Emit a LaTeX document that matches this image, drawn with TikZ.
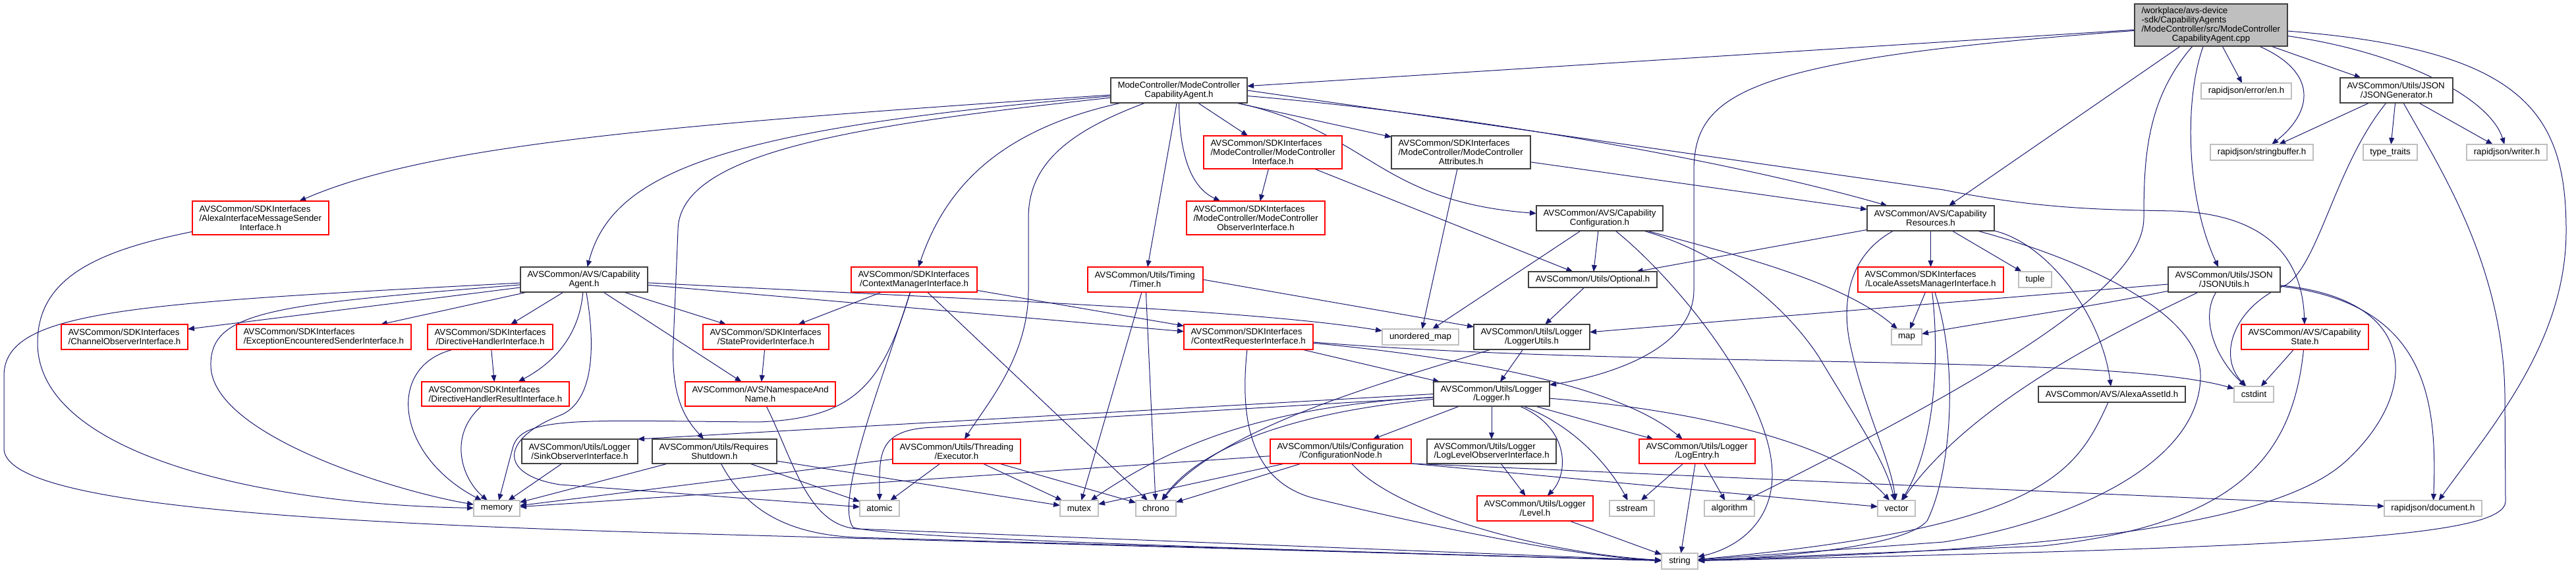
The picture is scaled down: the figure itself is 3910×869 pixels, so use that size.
\documentclass[tikz,border=0pt]{standalone}
\usepackage{fontspec}
\setmainfont{Liberation Sans}
\usetikzlibrary{arrows.meta}
\definecolor{edgec}{HTML}{191970}
\definecolor{redc}{HTML}{FF0000}
\definecolor{grayc}{HTML}{BFBFBF}
\definecolor{darkc}{HTML}{404040}
\definecolor{rootfill}{HTML}{BFBFBF}
\newcommand{\labfont}{\fontsize{13.3pt}{13.8pt}\selectfont}
\newcommand{\Ll}[1]{\leavevmode\hbox to\hsize{#1\hfil}}
\pgfdeclarelayer{bg}
\pgfsetlayers{bg,main}
\tikzset{
  nbase/.style={line width=1.25pt, inner sep=0pt, outer sep=0pt, fill=white, align=center, font=\labfont, text=black},
  bk/.style={nbase, draw=darkc},
  rd/.style={nbase, draw=redc},
  gy/.style={nbase, draw=grayc},
  rt/.style={nbase, draw=darkc, fill=rootfill},
  edg/.style={draw=edgec, line width=1pt, -{Triangle[length=10pt,width=8pt]}},
}
\newcommand{\mk}[7]{\node[#1,minimum width=#4pt,minimum height=#5pt,text width=#6pt] (#2) at (#3) {#7};}
\newcommand{\mb}[6]{\node[#1,minimum width=#4pt,minimum height=#5pt] (#2) at (#3) {#6};}
\begin{document}
\begin{tikzpicture}[x=1pt,y=-1pt]
\useasboundingbox (0,0) rectangle (3910,869);
\begin{pgfonlayer}{bg}
\fill[white] (0,0) rectangle (3910,869);
\end{pgfonlayer}
% ---------- nodes ----------
\mk{rt}{root}{3356,38}{232}{64}{211}{\Ll{/workplace/avs-device}\\\Ll{-sdk/CapabilityAgents}\\\Ll{/ModeController/src/ModeController}\\CapabilityAgent.cpp}
\mk{bk}{mcca}{1789.5,137}{207}{38}{186}{\Ll{ModeController/ModeController}\\CapabilityAgent.h}
\mk{rd}{amsi}{395.5,330.5}{207}{51}{186}{\Ll{AVSCommon/SDKInterfaces}\\\Ll{/AlexaInterfaceMessageSender}\\Interface.h}
\mk{bk}{cagent}{886.5,424}{193}{38}{172}{\Ll{AVSCommon/AVS/Capability}\\Agent.h}
\mk{rd}{cmi}{1387.5,424}{191}{38}{170}{\Ll{AVSCommon/SDKInterfaces}\\/ContextManagerInterface.h}
\mk{rd}{timer}{1738.5,424}{175}{38}{154}{\Ll{AVSCommon/Utils/Timing}\\/Timer.h}
\mk{rd}{mci}{1932,231}{210}{50}{189}{\Ll{AVSCommon/SDKInterfaces}\\\Ll{/ModeController/ModeController}\\Interface.h}
\mk{rd}{mcoi}{1906,330.5}{210}{51}{189}{\Ll{AVSCommon/SDKInterfaces}\\\Ll{/ModeController/ModeController}\\ObserverInterface.h}
\mk{bk}{mca}{2217.5,231}{211}{50}{190}{\Ll{AVSCommon/SDKInterfaces}\\\Ll{/ModeController/ModeController}\\Attributes.h}
\mk{bk}{capconf}{2428,331}{192}{38}{171}{\Ll{AVSCommon/AVS/Capability}\\Configuration.h}
\mb{bk}{optional}{2417.5,424}{195}{24}{AVSCommon/Utils/Optional.h}
\mk{bk}{capres}{2930.5,331}{193}{38}{172}{\Ll{AVSCommon/AVS/Capability}\\Resources.h}
\mk{rd}{locale}{2930.5,424}{221}{38}{200}{\Ll{AVSCommon/SDKInterfaces}\\/LocaleAssetsManagerInterface.h}
\mb{gy}{en}{3409.5,138}{137}{24}{rapidjson/error/en.h}
\mk{bk}{jgen}{3637.5,137}{171}{38}{150}{\Ll{AVSCommon/Utils/JSON}\\/JSONGenerator.h}
\mb{gy}{sbuf}{3433,231}{156}{24}{rapidjson/stringbuffer.h}
\mb{gy}{ttraits}{3628,231}{82}{24}{type\_traits}
\mb{gy}{writer}{3805,231}{122}{24}{rapidjson/writer.h}
\mb{gy}{tuple}{3089,424}{50}{24}{tuple}
\mk{bk}{jutils}{3376,424}{170}{38}{149}{\Ll{AVSCommon/Utils/JSON}\\/JSONUtils.h}
\mk{rd}{chan}{189,511}{192}{38}{171}{\Ll{AVSCommon/SDKInterfaces}\\/ChannelObserverInterface.h}
\mk{rd}{excep}{491.5,511}{265}{38}{244}{\Ll{AVSCommon/SDKInterfaces}\\/ExceptionEncounteredSenderInterface.h}
\mk{rd}{dhi}{744,511}{190}{38}{169}{\Ll{AVSCommon/SDKInterfaces}\\/DirectiveHandlerInterface.h}
\mk{rd}{dhri}{752,597.5}{224}{37}{203}{\Ll{AVSCommon/SDKInterfaces}\\/DirectiveHandlerResultInterface.h}
\mk{bk}{sink}{880,684.5}{176}{37}{155}{\Ll{AVSCommon/Utils/Logger}\\/SinkObserverInterface.h}
\mb{gy}{memory}{754,771}{70}{24}{memory}
\mk{rd}{spi}{1162.5,511}{191}{38}{170}{\Ll{AVSCommon/SDKInterfaces}\\/StateProviderInterface.h}
\mk{rd}{nan}{1154,597.5}{228}{37}{207}{\Ll{AVSCommon/AVS/NamespaceAnd}\\Name.h}
\mk{rd}{cri}{1895,511}{196}{38}{175}{\Ll{AVSCommon/SDKInterfaces}\\/ContextRequesterInterface.h}
\mk{bk}{reqs}{1084.5,684.5}{189}{37}{168}{\Ll{AVSCommon/Utils/Requires}\\Shutdown.h}
\mk{rd}{exec}{1452,684.5}{194}{37}{173}{\Ll{AVSCommon/Utils/Threading}\\/Executor.h}
\mb{gy}{atomic}{1335,771}{60}{24}{atomic}
\mb{gy}{mutex}{1638,771}{58}{24}{mutex}
\mb{gy}{chrono}{1754.5,771}{61}{24}{chrono}
\mk{rd}{cfgn}{2035,684.5}{214}{37}{193}{\Ll{AVSCommon/Utils/Configuration}\\/ConfigurationNode.h}
\mb{gy}{umap}{2156,511}{116}{24}{unordered\_map}
\mk{bk}{lutils}{2325,511}{176}{38}{155}{\Ll{AVSCommon/Utils/Logger}\\/LoggerUtils.h}
\mb{gy}{map}{2894,511}{46}{24}{map}
\mk{bk}{logger}{2264,597.5}{176}{37}{155}{\Ll{AVSCommon/Utils/Logger}\\/Logger.h}
\mk{bk}{llo}{2264,684.5}{196}{37}{175}{\Ll{AVSCommon/Utils/Logger}\\/LogLevelObserverInterface.h}
\mk{rd}{logentry}{2576,684.5}{176}{37}{155}{\Ll{AVSCommon/Utils/Logger}\\/LogEntry.h}
\mk{rd}{level}{2330,771}{176}{38}{155}{\Ll{AVSCommon/Utils/Logger}\\/Level.h}
\mb{gy}{sstream}{2477,771}{68}{24}{sstream}
\mb{gy}{algo}{2625,771}{76}{24}{algorithm}
\mb{gy}{vector}{2878.5,771}{57}{24}{vector}
\mb{gy}{string}{2549.5,851}{55}{24}{string}
\mk{rd}{capstate}{3498.5,511}{193}{38}{172}{\Ll{AVSCommon/AVS/Capability}\\State.h}
\mb{bk}{asset}{3205.5,598}{223}{24}{AVSCommon/AVS/AlexaAssetId.h}
\mb{gy}{cstdint}{3421,598}{60}{24}{cstdint}
\mb{gy}{doc}{3693,771}{148}{24}{rapidjson/document.h}
% ---------- edges ----------
\begin{pgfonlayer}{bg}
% root
\draw[edg] (root) -- (mcca);
\draw[edg] (root) -- (capres);
\draw[edg] (root) .. controls (2650,90) and (2571,140) .. (2571,260) -- (2571,440) .. controls (2571,530) and (2440,570) .. (logger);
\draw[edg] (root) .. controls (3258,150) and (3254,240) .. (3254,330) .. controls (3254,430) and (3050,560) .. (algo);
\draw[edg] (root) .. controls (3315,150) and (3318,300) .. (jutils);
\draw[edg] (root) -- (en);
\draw[edg] (root) -- (jgen);
\draw[edg] (root) .. controls (3520,110) and (3510,170) .. (sbuf);
\draw[edg] (root) .. controls (3650,80) and (3780,150) .. (writer);
\draw[edg] (root) .. controls (3830,75) and (3895,170) .. (3895,350) .. controls (3895,520) and (3780,650) .. (doc);
% mcca
\draw[edg] (mcca) .. controls (1000,190) and (650,220) .. (amsi);
\draw[edg] (mcca) .. controls (1100,195) and (930,260) .. (cagent);
\draw[edg] (mcca) .. controls (1300,190) and (1029,230) .. (1029,350) -- (1022,520) .. controls (1018,610) and (1045,640) .. (reqs);
\draw[edg] (mcca) .. controls (1500,200) and (1430,300) .. (cmi);
\draw[edg] (mcca) .. controls (1620,200) and (1561,250) .. (1561,330) -- (1561,440) .. controls (1561,540) and (1500,610) .. (exec);
\draw[edg] (mcca) -- (timer);
\draw[edg] (mcca) -- (mci);
\draw[edg] (mcca) .. controls (1790,240) and (1810,285) .. (mcoi);
\draw[edg] (mcca) -- (mca);
\draw[edg] (mcca) .. controls (2080,200) and (2090,305) .. (capconf);
\draw[edg] (mcca) .. controls (2250,175) and (2650,250) .. (capres);
\draw[edg] (mcca.east) -- (2950,288) .. controls (3100,318) and (3200,318) .. (3300,320) .. controls (3450,325) and (3495,400) .. (capstate);
% amsi
\draw[edg] (amsi) .. controls (150,380) and (57,420) .. (57,520) .. controls (57,690) and (400,765) .. (memory);
% cagent
\draw[edg] (cagent) -- (chan);
\draw[edg] (cagent) -- (excep);
\draw[edg] (cagent) -- (dhi);
\draw[edg] (cagent) .. controls (880,500) and (850,545) .. (dhri);
\draw[edg] (cagent) .. controls (420,462) and (318,470) .. (320,555) .. controls (322,660) and (600,745) .. (memory);
\draw[edg] (cagent) .. controls (200,460) and (6,470) .. (6,570) -- (6,680) .. controls (6,760) and (400,790) .. (1000,808) -- (string);
\draw[edg] (cagent) .. controls (905,530) and (900,610) .. (850,630) .. controls (760,665) and (755,720) .. (850,735) -- (atomic);
\draw[edg] (cagent) -- (spi);
\draw[edg] (cagent) -- (nan);
\draw[edg] (cagent) -- (cri);
\draw[edg] (cagent) .. controls (1500,455) and (1900,470) .. (umap);
% cmi
\draw[edg] (cmi) -- (spi);
\draw[edg] (cmi) -- (cri);
\draw[edg] (cmi) -- (chrono);
\draw[edg] (cmi) .. controls (1340,580) and (1300,635) .. (1150,640) .. controls (880,638) and (790,630) .. (778,680) -- (memory);
\draw[edg] (cmi) .. controls (1345,560) and (1265,760) .. (1295,800) .. controls (1350,815) and (1800,830) .. (string);
% timer
\draw[edg] (timer) -- (mutex);
\draw[edg] (timer) -- (chrono);
\draw[edg] (timer.east) -- (lutils);
% mci, mca
\draw[edg] (mci) -- (mcoi);
\draw[edg] (mci) -- (optional);
\draw[edg] (mca) -- (capres);
\draw[edg] (mca) -- (umap);
% capconf
\draw[edg] (capconf) -- (optional);
\draw[edg] (capconf) -- (umap);
\draw[edg] (capconf) .. controls (2540,420) and (2690,600) .. (2690,720) .. controls (2690,790) and (2640,830) .. (string);
\draw[edg] (capconf) .. controls (2600,380) and (2700,450) .. (2760,540) .. controls (2820,640) and (2862,700) .. (vector);
\draw[edg] (capconf) .. controls (2650,390) and (2800,430) .. (map);
% capres
\draw[edg] (capres) -- (optional);
\draw[edg] (capres) -- (locale);
\draw[edg] ([xshift=40pt]capres.south west) .. controls (2800,390) and (2795,470) .. (2810,530) .. controls (2830,620) and (2870,700) .. (vector);
\draw[edg] (capres) -- (tuple);
\draw[edg] (capres.south east) .. controls (3110,370) and (3190,480) .. (asset);
\draw[edg] (capres) .. controls (3150,390) and (3340,470) .. (3340,570) .. controls (3340,700) and (3150,790) .. (2950,822) -- (string);
% locale
\draw[edg] (locale) -- (map);
\draw[edg] (locale) .. controls (2945,550) and (2935,680) .. (vector);
\draw[edg] (locale) .. controls (2975,560) and (2960,720) .. (2925,790) .. controls (2890,830) and (2700,845) .. (string);
% optional, lutils
\draw[edg] (optional) -- (lutils);
\draw[edg] (lutils) -- (logger);
\draw[edg] (lutils) .. controls (2100,580) and (1850,650) .. (chrono);
% logger
\draw[edg] (logger.west) -- (sink.north east);
\draw[edg] (logger) -- (1420,648) .. controls (1330,650) and (1335,690) .. (atomic);
\draw[edg] (logger) .. controls (1950,615) and (1800,660) .. (mutex);
\draw[edg] (logger) .. controls (1960,625) and (1820,680) .. (chrono);
\draw[edg] (logger) -- (cfgn);
\draw[edg] (logger) -- (llo);
\draw[edg] (logger) .. controls (2385,650) and (2380,720) .. (level);
\draw[edg] (logger) .. controls (2400,650) and (2450,720) .. (sstream);
\draw[edg] (logger) -- (logentry);
\draw[edg] (logger) .. controls (2560,620) and (2790,670) .. (vector);
% cri
\draw[edg] (cri) -- (logger);
\draw[edg] (cri) .. controls (2200,540) and (2450,580) .. (logentry);
\draw[edg] (cri) .. controls (2500,560) and (3200,535) .. (cstdint);
\draw[edg] (cri) .. controls (1880,650) and (1905,735) .. (2000,757) .. controls (2200,805) and (2400,845) .. (string);
% spi, nan, reqs
\draw[edg] (spi) -- (nan);
\draw[edg] (nan) .. controls (1205,700) and (1225,795) .. (1300,802) -- (string);
\draw[edg] (reqs) -- (memory);
\draw[edg] (reqs) -- (atomic);
\draw[edg] (reqs) -- (mutex);
\draw[edg] (reqs) .. controls (1130,770) and (1190,810) .. (1300,815) -- (string);
% exec
\draw[edg] (exec) -- (memory);
\draw[edg] (exec) -- (atomic);
\draw[edg] (exec) -- (mutex);
\draw[edg] (exec) -- (chrono);
% cfgn
\draw[edg] (cfgn) -- (memory);
\draw[edg] (cfgn) -- (mutex);
\draw[edg] (cfgn) -- (chrono);
\draw[edg] (cfgn) .. controls (2120,780) and (2350,840) .. (string);
\draw[edg] (cfgn.south east) -- (vector);
\draw[edg] (cfgn.south east) -- (doc);
% directive handlers, sink
\draw[edg] (dhi) -- (dhri);
\draw[edg] ([xshift=-56pt]dhi.south) .. controls (585,555) and (600,690) .. (memory);
\draw[edg] (dhri) .. controls (680,660) and (700,725) .. (memory);
\draw[edg] (sink) -- (memory);
% logger family
\draw[edg] (llo) -- (level);
\draw[edg] (logentry) -- (sstream);
\draw[edg] (logentry) -- (algo);
\draw[edg] (logentry) -- (string);
\draw[edg] (level) -- (string);
% jgen
\draw[edg] (jgen) -- (sbuf);
\draw[edg] (jgen) -- (ttraits);
\draw[edg] (jgen) -- (writer);
\draw[edg] (jgen) .. controls (3545,250) and (3520,400) .. (3470,432) .. controls (3390,465) and (3365,540) .. (cstdint);
\draw[edg] (jgen) .. controls (3700,250) and (3800,400) .. (3802,600) -- (3803,760) .. controls (3803,815) and (3500,830) .. (string);
% jutils
\draw[edg] (jutils) -- (lutils);
\draw[edg] (jutils) .. controls (3150,470) and (3000,490) .. (map);
\draw[edg] (jutils) .. controls (3340,480) and (3360,540) .. (cstdint);
\draw[edg] (jutils) .. controls (3240,490) and (3000,600) .. (vector);
\draw[edg] (jutils) .. controls (3680,460) and (3700,600) .. (doc);
\draw[edg] (jutils) .. controls (3680,455) and (3670,600) .. (3560,700) .. controls (3450,800) and (3100,835) .. (string);
% capstate, asset
\draw[edg] (capstate) -- (cstdint);
\draw[edg] (capstate) .. controls (3480,690) and (3400,795) .. (3100,828) -- (string);
\draw[edg] (asset) .. controls (3150,720) and (3100,800) .. (string);
\end{pgfonlayer}
\end{tikzpicture}
\end{document}
